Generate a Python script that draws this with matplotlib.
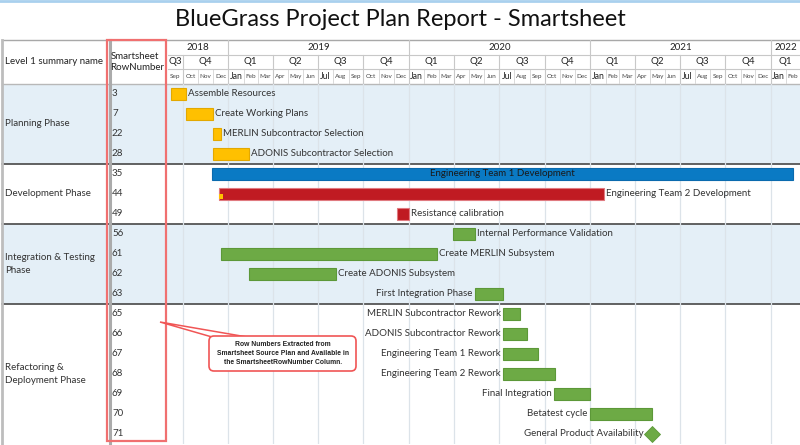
import matplotlib
matplotlib.use('Agg')
import matplotlib.pyplot as plt
import matplotlib.dates as mdates
import matplotlib.transforms as mtransforms
from matplotlib.patches import Rectangle, Polygon, FancyBboxPatch
import datetime as dt

plt.rcParams['font.family'] = ['Lato', 'DejaVu Sans']

# ---------------- data ----------------
title = "BlueGrass Project Plan Report - Smartsheet"
col1_header = "Level 1 summary name"
col2_header = "Smartsheet\nRowNumber"
phases = ["Planning Phase", "Development Phase", "Integration & Testing\nPhase",
          "Refactoring &\nDeployment Phase"]
phase_rows = [4, 3, 4, 7]
phase_band = [True, False, True, False]
row_numbers = [3, 7, 22, 28, 35, 44, 49, 56, 61, 62, 63, 65, 66, 67, 68, 69, 70, 71]
tasks = ["Assemble Resources", "Create Working Plans", "MERLIN Subcontractor Selection",
         "ADONIS Subcontractor Selection", "Engineering Team 1 Development",
         "Engineering Team 2 Development", "Resistance calibration",
         "Internal Performance Validation", "Create MERLIN Subsystem",
         "Create ADONIS Subsystem", "First Integration Phase",
         "MERLIN Subcontractor Rework", "ADONIS Subcontractor Rework",
         "Engineering Team 1 Rework", "Engineering Team 2 Rework",
         "Final Integration", "Betatest cycle", "General Product Availability"]
starts = ["2018-09-07", "2018-10-07", "2018-12-01", "2018-12-01", "2018-11-29",
          "2018-12-13", "2019-12-08", "2020-03-30", "2018-12-17", "2019-02-12",
          "2020-05-13", "2020-07-09", "2020-07-09", "2020-07-09", "2020-07-09",
          "2020-10-20", "2020-12-31", "2021-05-06"]
ends = ["2018-10-07", "2018-12-01", "2018-12-17", "2019-02-12", "2022-02-15",
        "2021-01-29", "2020-01-01", "2020-05-13", "2020-02-27", "2019-08-06",
        "2020-07-09", "2020-08-12", "2020-08-26", "2020-09-18", "2020-10-22",
        "2021-01-01", "2021-05-06", "2021-05-06"]
task_colors = ["orange"] * 4 + ["blue", "red", "red"] + ["green"] * 11
label_side = ["right"] * 4 + ["inside", "right", "right", "right", "right", "right"] + ["left"] * 8
progress_task = "Engineering Team 2 Development"
progress_end = "2018-12-22"
timeline_start = "2018-09-01"
timeline_end = "2022-03-01"
month_names = ["Jan", "Feb", "Mar", "Apr", "May", "Jun", "Jul", "Aug", "Sep", "Oct", "Nov", "Dec"]
callout_text = ("Row Numbers Extracted from\nSmartsheet Source Plan and Available in\n"
                "the SmartsheetRowNumber Column.")

palette = {"orange": ("#FFC000", "#E3A800"), "blue": ("#0A7AC4", "#0A6AAE"),
           "red": ("#C01B22", "#E07A80"), "green": ("#6DAA45", "#5C9838")}

# ---------------- figure ----------------
W, H = 800, 445
fig = plt.figure(figsize=(W / 100, H / 100), dpi=100)
bg = fig.add_axes([0, 0, 1, 1])
bg.set_xlim(0, W)
bg.set_ylim(H, 0)
bg.axis('off')
bg.set_zorder(0)

chart_l, chart_r, head_top, head_bot, chart_bot = 168, 800, 40, 84, 444
n = len(tasks)
gantt = fig.add_axes([chart_l / W, 1 - chart_bot / H, (chart_r - chart_l) / W,
                      (chart_bot - head_bot) / H])
gantt.set_zorder(1)
gantt.patch.set_alpha(0)
t0 = mdates.datestr2num(timeline_start)
t1 = mdates.datestr2num(timeline_end)
gantt.set_xlim(t0, t1)
gantt.set_ylim(n - 0.5, -0.5)
gantt.axis('off')

header = fig.add_axes([chart_l / W, 1 - head_bot / H, (chart_r - chart_l) / W,
                       (head_bot - head_top) / H])
header.set_xlim(t0, t1)
header.set_ylim(0, 3)
header.axis('off')

# overlay for the callout (above the gantt axes)
ov = fig.add_axes([0, 0, 1, 1])
ov.set_xlim(0, W)
ov.set_ylim(H, 0)
ov.axis('off')
ov.set_zorder(5)
ov.patch.set_alpha(0)

# title and top line
bg.plot([0, W], [0.8, 0.8], color="#A9D0EE", lw=2)
bg.text(W / 2, 20, title, ha='center', va='center', fontsize=17, color='#111111')

# blended transform: x in pixels, y in gantt rows
bt = mtransforms.blended_transform_factory(bg.transData, gantt.transData)

# bands and group separators
r = 0
for name, cnt, band in zip(phases, phase_rows, phase_band):
    if band:
        bg.add_patch(Rectangle((2, r - 0.5), W - 2, cnt, transform=bt,
                               facecolor="#E4EFF7", edgecolor='none', zorder=0))
    bg.text(5, r + (cnt - 1) / 2, name, transform=bt, ha='left', va='center',
            fontsize=7, color='#333333', linespacing=1.45)
    r += cnt
    if r < n:
        bg.plot([2, W], [r - 0.5, r - 0.5], transform=bt, color='#555555', lw=1.3, zorder=3)

for i, rn in enumerate(row_numbers):
    bg.text(112, i, str(rn), transform=bt, ha='left', va='center', fontsize=7,
            color='#333333')

# header columns
bg.plot([2, W], [head_top, head_top], color='#A8A8A8', lw=1, zorder=3)
bg.plot([2, W], [head_bot, head_bot], color='#B8B8B8', lw=1, zorder=3)
bg.plot([2, 2], [head_top, chart_bot], color='#BDBDBD', lw=2, zorder=3)
bg.plot([109.5, 109.5], [head_top, chart_bot], color='#ABABAB', lw=2.2, zorder=3)
bg.text(5, 62, col1_header, ha='left', va='center', fontsize=7, color='#222222')
bg.text(110.5, 62, col2_header, ha='left', va='center', fontsize=7, color='#222222',
        linespacing=1.35)

# month / quarter / year header, quarter gridlines
def month_iter(a, b):
    y, m = a.year, a.month
    while dt.date(y, m, 1) < b:
        yield dt.date(y, m, 1)
        m += 1
        if m > 12:
            m, y = 1, y + 1

d0 = mdates.num2date(t0).date()
d1 = mdates.num2date(t1).date()
months = list(month_iter(d0, d1))
edges = months + [d1]
for k, m in enumerate(months):
    x0 = mdates.date2num(m)
    x1 = mdates.date2num(edges[k + 1])
    if m.month in (1, 7):
        header.text((x0 + x1) / 2, 0.5, month_names[m.month - 1], ha='center', va='center',
                    fontsize=6.3, color='#222222')
    else:
        header.text((x0 + x1) / 2, 0.5, month_names[m.month - 1], ha='center', va='center',
                    fontsize=4.6, color='#444444')
    if k > 0:
        if m.month == 1:
            header.plot([x0, x0], [0, 3], color='#C8C8C8', lw=0.8)
        elif m.month in (4, 7, 10):
            header.plot([x0, x0], [0, 2], color='#C8C8C8', lw=0.8)
        else:
            header.plot([x0, x0], [0, 1], color='#DADADA', lw=0.7)
        if (m.month - 1) % 3 == 0:
            gantt.axvline(x0, color='#DCE3E9', lw=0.9, zorder=0)

header.plot([t0, t1], [1, 1], color='#C8C8C8', lw=0.8)
header.plot([t0, t1], [2, 2], color='#C8C8C8', lw=0.8)

quarters = {}
years = {}
for k, m in enumerate(months):
    x0 = mdates.date2num(m)
    x1 = mdates.date2num(edges[k + 1])
    q = (m.year, (m.month - 1) // 3 + 1)
    quarters.setdefault(q, [x0, x1])[1] = x1
    years.setdefault(m.year, [x0, x1])[1] = x1
for (yy, qq), (a, b) in quarters.items():
    header.text((a + b) / 2, 1.5, f"Q{qq}", ha='center', va='center', fontsize=7,
                color='#222222')
for yy, (a, b) in years.items():
    header.text((a + b) / 2, 2.5, str(yy), ha='center', va='center', fontsize=7,
                color='#222222')

# bars
for i, (name, s, e, c, side) in enumerate(zip(tasks, starts, ends, task_colors, label_side)):
    xs = mdates.datestr2num(s)
    xe = mdates.datestr2num(e)
    fc, ec = palette[c]
    if xe == xs:
        gantt.plot(xs, i, marker='D', markersize=8, color=fc, markeredgecolor=ec,
                   markeredgewidth=0.6, zorder=3)
        gantt.annotate(name, (xs, i), xytext=(-6, 0), textcoords='offset points',
                       ha='right', va='center', fontsize=7, color='#333333')
        continue
    gantt.barh(i, xe - xs, left=xs, height=0.6, color=fc, edgecolor=ec, linewidth=0.8,
               zorder=3)
    if name == progress_task:
        gantt.barh(i + 0.12, mdates.datestr2num(progress_end) - xs - 2, left=xs + 1,
                   height=0.22, color="#FFC000", edgecolor='none', zorder=4)
    if side == 'right':
        gantt.annotate(name, (xe, i), xytext=(1.5, 0), textcoords='offset points',
                       ha='left', va='center', fontsize=7, color='#333333')
    elif side == 'left':
        gantt.annotate(name, (xs, i), xytext=(-1.5, 0), textcoords='offset points',
                       ha='right', va='center', fontsize=7, color='#333333')
    else:
        gantt.text((xs + xe) / 2, i, name, ha='center', va='center', fontsize=7,
                   color='#1A1A1A', zorder=5)

# red highlight box
bg.add_patch(Rectangle((107, head_top), 59, 401, fill=False, edgecolor='#F07070', lw=1.6,
                       zorder=6))

# callout: wedge pointer + rounded box
ov.add_patch(Polygon([(160, 322), (212, 337), (247, 337)], closed=True, facecolor='white',
                     edgecolor='#F05555', lw=1.1, zorder=1))
ov.add_patch(FancyBboxPatch((209, 336), 147, 35,
                            boxstyle='round,pad=0,rounding_size=5', facecolor='white',
                            edgecolor='#F05555', lw=1.2, zorder=2))
ov.text(283, 353.5, callout_text, ha='center', va='center', fontsize=4.9,
        fontweight='bold', family=['Liberation Sans'], color='#222222',
        linespacing=1.35, zorder=3)

fig.savefig('out.png', dpi=100)
